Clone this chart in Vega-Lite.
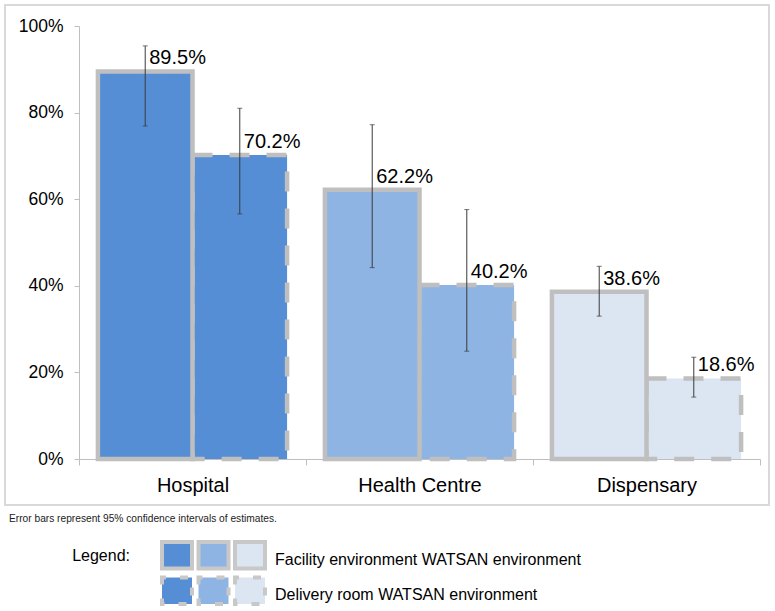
{
  "$schema": "https://vega.github.io/schema/vega-lite/v6.json",
  "width": 764,
  "height": 500,
  "autosize": {"type": "none"},
  "padding": {"left": 5, "top": 5, "right": 6, "bottom": 106},
  "background": "white",
  "config": {
    "view": {"stroke": "#D9D9D9", "strokeWidth": 2},
    "font": "Liberation Sans"
  },
  "title": {
    "text": "Error bars represent 95% confidence intervals of estimates.",
    "orient": "top",
    "anchor": "start",
    "frame": "group",
    "fontSize": 10.2,
    "fontWeight": "normal",
    "font": "Liberation Sans",
    "color": "#222222",
    "offset": -519,
    "dx": 4
  },
  "datasets": {
    "bars": [
      {"setting": "Hospital", "env": "Delivery", "value": 0.702, "lo": 0.566, "hi": 0.810},
      {"setting": "Health Centre", "env": "Delivery", "value": 0.402, "lo": 0.249, "hi": 0.576},
      {"setting": "Dispensary", "env": "Delivery", "value": 0.186, "lo": 0.143, "hi": 0.235},
      {"setting": "Hospital", "env": "Facility", "value": 0.895, "lo": 0.769, "hi": 0.954},
      {"setting": "Health Centre", "env": "Facility", "value": 0.622, "lo": 0.442, "hi": 0.772},
      {"setting": "Dispensary", "env": "Facility", "value": 0.386, "lo": 0.330, "hi": 0.445}
    ],
    "legendText": [
      {"env": "Facility", "label": "Facility environment WATSAN environment"},
      {"env": "Delivery", "label": "Delivery room WATSAN environment"}
    ]
  },
  "layer": [
    {
      "data": {"name": "bars"},
      "encoding": {
        "x": {
          "field": "setting",
          "type": "nominal",
          "sort": ["Hospital", "Health Centre", "Dispensary"],
          "scale": {"domain": ["Hospital", "Health Centre", "Dispensary"], "range": [74, 755], "paddingInner": 0, "paddingOuter": 0},
          "axis": {
            "title": null,
            "labelAngle": 0,
            "offset": -46,
            "tickBand": "extent",
            "domainColor": "#BFBFBF",
            "domainWidth": 1,
            "tickColor": "#BFBFBF",
            "tickSize": 6,
            "labelFontSize": 20,
            "labelColor": "#000000",
            "labelPadding": 10,
            "labelFont": "Liberation Sans"
          }
        },
        "xOffset": {
          "field": "env",
          "type": "nominal",
          "scale": {"domain": ["Facility", "Delivery"], "paddingInner": 0, "paddingOuter": 0.2}
        }
      },
      "layer": [
        {
          "mark": {"type": "bar", "stroke": "#BFBFBF", "strokeWidth": 4.5, "strokeJoin": "miter"},
          "encoding": {
            "y": {
              "field": "value",
              "type": "quantitative",
              "scale": {"domain": [0, 1], "range": [454, 21], "nice": false},
              "axis": {
                "title": null,
                "values": [0, 0.2, 0.4, 0.6, 0.8, 1],
                "format": ".0%",
                "offset": -74,
                "grid": false,
                "domainColor": "#BFBFBF",
                "tickColor": "#BFBFBF",
                "tickSize": 5,
                "labelFontSize": 17.5,
                "labelColor": "#000000",
                "labelPadding": 11,
                "labelFont": "Liberation Sans"
              }
            },
            "color": {
              "field": "setting",
              "type": "nominal",
              "scale": {"domain": ["Hospital", "Health Centre", "Dispensary"], "range": ["#558ED5", "#8EB4E3", "#DCE6F2"]},
              "legend": null
            },
            "strokeDash": {
              "field": "env",
              "type": "nominal",
              "scale": {"domain": ["Facility", "Delivery"], "range": [[1, 0], [20, 17]]},
              "legend": null
            }
          }
        },
        {
          "mark": {"type": "rule", "color": "#3A3A3A", "strokeWidth": 1},
          "encoding": {
            "y": {"field": "lo", "type": "quantitative", "axis": {"title": null}},
            "y2": {"field": "hi"}
          }
        },
        {
          "mark": {"type": "tick", "color": "#3A3A3A", "thickness": 1, "size": 5},
          "encoding": {"y": {"field": "lo", "type": "quantitative", "axis": {"title": null}}}
        },
        {
          "mark": {"type": "tick", "color": "#3A3A3A", "thickness": 1, "size": 5},
          "encoding": {"y": {"field": "hi", "type": "quantitative", "axis": {"title": null}}}
        },
        {
          "mark": {"type": "text", "align": "left", "baseline": "alphabetic", "dx": 4, "dy": -7, "fontSize": 20, "font": "Liberation Sans", "color": "#000000"},
          "encoding": {
            "y": {"field": "value", "type": "quantitative", "axis": {"title": null}},
            "text": {"field": "value", "type": "quantitative", "format": ".1%"}
          }
        }
      ]
    },
    {
      "layer": [
        {
          "data": {"name": "bars"},
          "transform": [{"filter": "datum.env === 'Facility'"}],
          "mark": {"type": "rect", "stroke": "#C8C8C8", "strokeWidth": 4},
          "encoding": {
            "x": {
              "field": "setting",
              "type": "nominal",
              "scale": {"domain": ["Hospital", "Health Centre", "Dispensary"], "range": [157, 260], "paddingInner": 0.178, "paddingOuter": 0},
              "axis": null
            },
            "y": {
              "field": "env",
              "type": "nominal",
              "scale": {"domain": ["Facility", "Delivery"], "range": [537, 599], "paddingInner": 0.254, "paddingOuter": 0},
              "axis": null
            },
            "color": {"field": "setting", "type": "nominal", "legend": null}
          }
        },
        {
          "data": {"name": "bars"},
          "transform": [{"filter": "datum.env === 'Delivery'"}],
          "mark": {"type": "rect", "stroke": "#C8C8C8", "strokeWidth": 4, "strokeDash": [8, 14], "strokeDashOffset": 4},
          "encoding": {
            "x": {"field": "setting", "type": "nominal", "axis": null},
            "y": {"field": "env", "type": "nominal", "axis": null},
            "color": {"field": "setting", "type": "nominal", "legend": null}
          }
        },
        {
          "data": {"name": "legendText"},
          "mark": {"type": "text", "align": "left", "baseline": "middle", "dx": 25, "dy": 4.5, "fontSize": 16, "font": "Liberation Sans", "color": "#000000"},
          "encoding": {
            "x": {"datum": "Dispensary", "type": "nominal", "axis": null},
            "y": {"field": "env", "type": "nominal", "axis": null},
            "text": {"field": "label", "type": "nominal"}
          }
        },
        {
          "data": {"values": [{"t": "Legend:"}]},
          "mark": {"type": "text", "align": "right", "baseline": "middle", "dx": -47, "dy": 1, "fontSize": 16, "font": "Liberation Sans", "color": "#000000"},
          "encoding": {
            "x": {"datum": "Hospital", "type": "nominal", "axis": null},
            "y": {"datum": "Facility", "type": "nominal", "axis": null},
            "text": {"field": "t", "type": "nominal"}
          }
        }
      ]
    }
  ],
  "resolve": {"scale": {"x": "independent", "y": "independent"}}
}
